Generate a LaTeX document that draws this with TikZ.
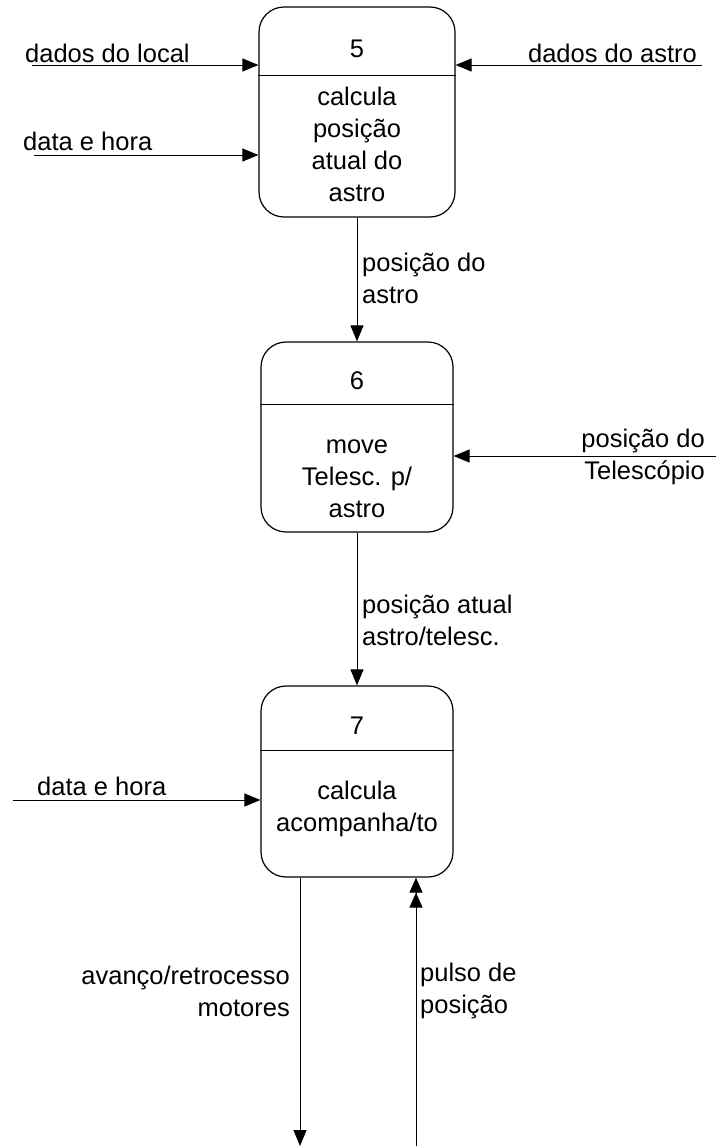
\documentclass[tikz,border=0pt]{standalone}
\usepackage{fontspec}
\setmainfont{Liberation Sans}
\usetikzlibrary{arrows.meta,positioning}

\begin{document}
\begin{tikzpicture}[x=1pt,y=-1pt,
  proc/.style={draw,line width=1.2pt,rounded corners=25pt,
               minimum width=192pt,minimum height=191pt,inner sep=0pt},
  txt/.style={font=\fontsize{25.5pt}{32pt}\selectfont,inner sep=0pt,align=center},
  flow/.style={-{Triangle[length=16pt,width=13pt]},line width=1pt},
  flowback/.style={-{Triangle[length=15pt,width=13pt]Triangle[length=15pt,width=13pt]},
                   line width=1pt},
]
\useasboundingbox (0,0) rectangle (716,1146);
\node[proc,minimum width=196pt,minimum height=210pt] (p5) at (357,112) {};
\node[proc,minimum height=190pt] (p6) at (357,437) {};
\node[proc] (p7) at (357,781.5) {};
\draw[line width=1pt] ([yshift=-69pt]p5.north west) -- ([yshift=-69pt]p5.north east);
\draw[line width=1pt] ([yshift=-63pt]p6.north west) -- ([yshift=-63pt]p6.north east);
\draw[line width=1pt] ([yshift=-65pt]p7.north west) -- ([yshift=-65pt]p7.north east);
\node[txt,anchor=base] (n5) at (357,57) {5};
\node[txt,anchor=base] (n6) at (357,389) {6};
\node[txt,anchor=base] (n7) at (357,734) {7};
\node[txt] (b5) at (357,144) {calcula\\posição\\atual do\\astro};
\node[txt] (b6) at (357,479) {move\\Telesc. p/\\astro};
\node[txt] (b7) at (357,809) {calcula\\acompanha/to};

\coordinate (e1) at (32,65);
\coordinate (e2) at (34,155);
\coordinate (e3) at (702,65);
\coordinate (e4) at (716,456);
\coordinate (e5) at (13,800);
\coordinate (s1) at (300,1146);
\coordinate (e6) at (416,1146);

\draw[flow] (e1) -- (e1 -| p5.west);
\draw[flow] (e2) -- (e2 -| p5.west);
\draw[flow] (e3) -- (e3 -| p5.east);
\draw[flow] (p5) -- (p6);
\draw[flow] (e4) -- (e4 -| p6.east);
\draw[flow] (p6) -- (p7);
\draw[flow] (e5) -- (e5 -| p7.west);
\draw[flow] (s1 |- p7.south) -- (s1);
\draw[flowback] (e6) -- (e6 |- p7.south);

\node[txt,anchor=base west] (l1) at (25,62) {dados do local};
\node[txt,anchor=base west] (l2) at (23,150) {data e hora};
\node[txt,anchor=base east] (l3) at (697,62) {dados do astro};
\node[txt,anchor=west,align=left] (l4) at (362,278) {posição do\\astro};
\node[txt,anchor=east,align=right] (l5) at (705,457) {posição do\\Telescópio};
\node[txt,anchor=west,align=left] (l6) at (362,620) {posição atual\\astro/telesc.};
\node[txt,anchor=base west] (l7) at (37,795) {data e hora};
\node[txt,anchor=east,align=right] (l8) at (290,991) {avanço/retrocesso\\motores};
\node[txt,anchor=west,align=left] (l9) at (420,991) {pulso de\\posição};
\end{tikzpicture}
\end{document}
